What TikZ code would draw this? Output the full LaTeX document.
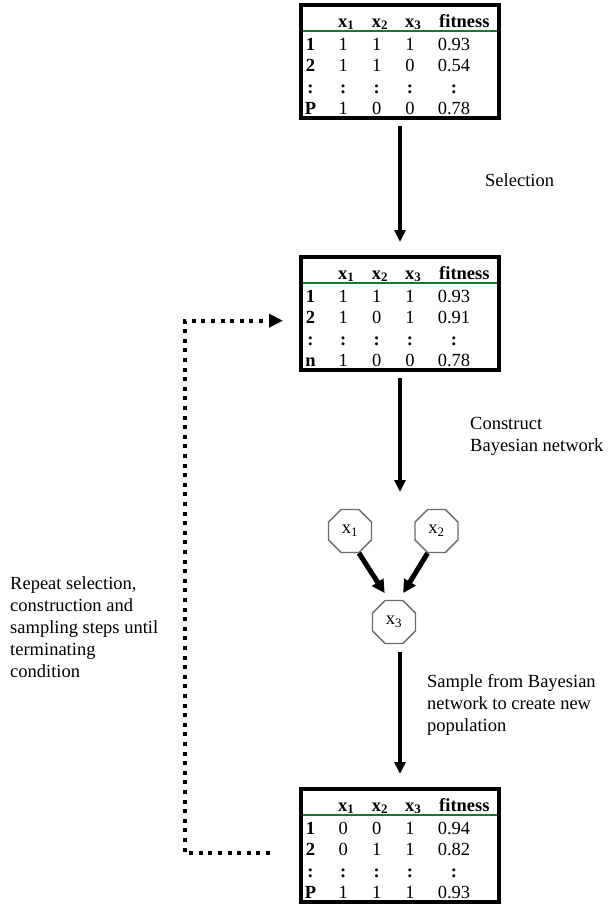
\documentclass[tikz,border=0pt]{standalone}
\usepackage{fontspec}
\setmainfont{Liberation Serif}
\usetikzlibrary{arrows.meta,shapes.geometric}
\definecolor{rulegreen}{RGB}{20,120,45}
\definecolor{octgray}{gray}{0.42}

% One population table: #1 name, #2 top edge of the frame,
% #3 rows as label/x1/x2/x3/fitness
\newcommand{\poptable}[3]{%
  \draw[rulegreen, line width=2pt] (301,#2+28) -- (499,#2+28);
  \node[tbox] (#1) at (400,#2+58.5) {};
  \node[headcell] (#1-x1) at (338,#2+24) {x\textsubscript{1}};
  \node[headcell] (#1-x2) at (371.7,#2+24) {x\textsubscript{2}};
  \node[headcell] (#1-x3) at (405,#2+24) {x\textsubscript{3}};
  \node[headcell] (#1-fit) at (439,#2+24) {fitness};
  \foreach \lab/\va/\vb/\vc/\fit [count=\i] in {#3}{%
    \pgfmathsetmacro{\rowy}{#2+47+21.5*(\i-1)}
    \node[labcell] (#1-r\i-l) at (310.5,\rowy) {\lab};
    \node[cell] (#1-r\i-a) at (343.3,\rowy) {\va};
    \node[cell] (#1-r\i-b) at (376.7,\rowy) {\vb};
    \node[cell] (#1-r\i-c) at (410,\rowy) {\vc};
    \node[cell] (#1-r\i-f) at (454,\rowy) {\fit};
  }%
}

\begin{document}
\begin{tikzpicture}[x=1pt,y=-1pt,
  every node/.style={font=\fontsize{18.5}{22}\selectfont, inner sep=0pt},
  tbox/.style={draw, line width=4pt, minimum width=198pt, minimum height=113pt},
  headcell/.style={anchor=base west, font=\fontsize{18.5}{22}\selectfont\bfseries},
  labcell/.style={anchor=base, font=\fontsize{18.5}{22}\selectfont\bfseries},
  cell/.style={anchor=base},
  flow/.style={line width=3.5pt, -{Triangle[length=12pt,width=11pt]}},
  bnode/.style={draw=octgray, line width=1.3pt, regular polygon,
    regular polygon sides=8, minimum size=46.5pt},
  bnarrow/.style={line width=5pt, -{Triangle[length=13pt,width=13pt]}},
  feedback/.style={line width=4pt, dash pattern=on 4pt off 5.6pt,
    -{Triangle[length=14pt,width=13pt]}},
  note/.style={align=left, anchor=north west}
]
\fill[white] (0,0) rectangle (609,905);
\useasboundingbox (0,0) rectangle (609,905);

% populations
\poptable{t1}{3}{1/1/1/1/0.93, 2/1/1/0/0.54,
  \textbf{:}/\textbf{:}/\textbf{:}/\textbf{:}/\textbf{:}, P/1/0/0/0.78}
\poptable{t2}{255}{1/1/1/1/0.93, 2/1/0/1/0.91,
  \textbf{:}/\textbf{:}/\textbf{:}/\textbf{:}/\textbf{:}, n/1/0/0/0.78}
\poptable{t3}{787}{1/0/0/1/0.94, 2/0/1/1/0.82,
  \textbf{:}/\textbf{:}/\textbf{:}/\textbf{:}/\textbf{:}, P/1/1/1/0.93}

% Bayesian network
\node[bnode] (x1) at (350,531) {x\textsubscript{1}};
\node[bnode] (x2) at (436.5,531) {x\textsubscript{2}};
\node[bnode] (x3) at (394,622) {x\textsubscript{3}};
\draw[bnarrow, shorten >=8pt] (x1.-68) -- ([xshift=-5pt]x3.north);
\draw[bnarrow, shorten >=8pt] (x2.-112) -- ([xshift=5pt]x3.north);

% main flow
\coordinate (bn) at (400,492);
\draw[flow, shorten <=6pt, shorten >=13pt] (t1.south) -- (t2.north);
\draw[flow, shorten <=6pt] (t2.south) -- (bn);
\draw[flow, shorten <=8pt, shorten >=13pt] (x3.south -| t3.north) -- (t3.north);

% loop back
\coordinate (fbfrom) at (270,853);
\coordinate (fbto) at (283,320.7);
\draw[feedback] (fbfrom) -- ++(-85,0) |- (fbto);

% step labels
\node[anchor=base west] (selnote) at (485,186) {Selection};
\node[note] (bnnote) at (470,417.4) {Construct\\Bayesian network};
\node[note] (samplenote) at (427,674) {Sample from Bayesian\\network to create new\\population};
\node[note] (loopnote) at (10,576.4) {Repeat selection,\\construction and\\sampling steps until\\terminating\\condition};
\end{tikzpicture}
\end{document}
